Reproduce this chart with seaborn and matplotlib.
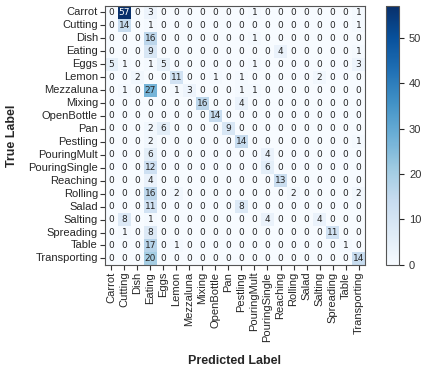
import numpy as np
import pandas as pd
import seaborn as sns
from matplotlib import pyplot as plt

labels = ["Carrot", "Cutting", "Dish", "Eating", "Eggs", "Lemon", "Mezzaluna",
          "Mixing", "OpenBottle", "Pan", "Pestling", "PouringMult",
          "PouringSingle", "Reaching", "Rolling", "Salad", "Salting",
          "Spreading", "Table", "Transporting"]

# rows = true label, columns = predicted label
counts = [
    [0, 57, 0, 3, 0, 0, 0, 0, 0, 0, 0, 1, 0, 0, 0, 0, 0, 0, 0, 1],
    [0, 14, 0, 1, 0, 0, 0, 0, 0, 0, 0, 0, 0, 0, 0, 0, 0, 0, 0, 1],
    [0, 0, 0, 16, 0, 0, 0, 0, 0, 0, 0, 1, 0, 0, 0, 0, 0, 0, 0, 0],
    [0, 0, 0, 9, 0, 0, 0, 0, 0, 0, 0, 0, 0, 4, 0, 0, 0, 0, 0, 1],
    [5, 1, 0, 1, 5, 0, 0, 0, 0, 0, 0, 1, 0, 0, 0, 0, 0, 0, 0, 3],
    [0, 0, 2, 0, 0, 11, 0, 0, 1, 0, 1, 0, 0, 0, 0, 0, 2, 0, 0, 0],
    [0, 1, 0, 27, 0, 1, 3, 0, 0, 0, 1, 1, 0, 0, 0, 0, 0, 0, 0, 0],
    [0, 0, 0, 0, 0, 0, 0, 16, 0, 0, 4, 0, 0, 0, 0, 0, 0, 0, 0, 0],
    [0, 0, 0, 0, 0, 0, 0, 0, 14, 0, 0, 0, 0, 0, 0, 0, 0, 0, 0, 0],
    [0, 0, 0, 2, 6, 0, 0, 0, 0, 9, 0, 0, 0, 0, 0, 0, 0, 0, 0, 0],
    [0, 0, 0, 2, 0, 0, 0, 0, 0, 0, 14, 0, 0, 0, 0, 0, 0, 0, 0, 1],
    [0, 0, 0, 6, 0, 0, 0, 0, 0, 0, 0, 0, 4, 0, 0, 0, 0, 0, 0, 0],
    [0, 0, 0, 12, 0, 0, 0, 0, 0, 0, 0, 0, 6, 0, 0, 0, 0, 0, 0, 0],
    [0, 0, 0, 4, 0, 0, 0, 0, 0, 0, 0, 0, 0, 13, 0, 0, 0, 0, 0, 0],
    [0, 0, 0, 16, 0, 2, 0, 0, 0, 0, 0, 0, 0, 0, 2, 0, 0, 0, 0, 2],
    [0, 0, 0, 11, 0, 0, 0, 0, 0, 0, 8, 0, 0, 0, 0, 0, 0, 0, 0, 0],
    [0, 8, 0, 1, 0, 0, 0, 0, 0, 0, 0, 0, 4, 0, 0, 0, 4, 0, 0, 0],
    [0, 1, 0, 8, 0, 0, 0, 0, 0, 0, 0, 0, 0, 0, 0, 0, 0, 11, 0, 0],
    [0, 0, 0, 17, 0, 1, 0, 0, 0, 0, 0, 0, 0, 0, 0, 0, 0, 0, 1, 0],
    [0, 0, 0, 20, 0, 0, 0, 0, 0, 0, 0, 0, 0, 0, 0, 0, 0, 0, 0, 14],
]

cm = pd.DataFrame(np.array(counts), index=labels, columns=labels)

sns.set_style("ticks")
plt.rcParams['font.family'] = ['Liberation Sans', 'DejaVu Sans']

fig = plt.figure(figsize=(4.23, 3.72), dpi=100)
ax = fig.add_axes([0.248, 0.288, 0.615, 0.696])
cax = fig.add_axes([0.913, 0.288, 0.031, 0.696])

sns.heatmap(cm, annot=True, fmt="d", cmap="Blues", ax=ax, cbar_ax=cax,
            annot_kws={"size": 6.5, "family": "DejaVu Sans"},
            vmin=0, vmax=57)

for sp in ax.spines.values():
    sp.set_visible(True)
    sp.set_color("#555555")
    sp.set_linewidth(0.8)
cbar = ax.collections[0].colorbar
cbar.outline.set_edgecolor("#555555")
cbar.outline.set_linewidth(0.8)

ax.set_xticks(np.arange(len(labels)) + 0.5)
ax.set_yticks(np.arange(len(labels)) + 0.5)
ax.set_xticklabels(labels, rotation=90, fontsize=8)
ax.set_yticklabels(labels, rotation=0, fontsize=8)
ax.tick_params(length=3.5, width=0.8, pad=1.5, color="#333333")
cax.tick_params(labelsize=8, length=3.5, width=0.8, labelcolor="#333333")
cax.set_yticks([0, 10, 20, 30, 40, 50])

ax.set_xlabel("Predicted Label", fontsize=9, fontweight="bold", labelpad=10)
ax.set_ylabel("True Label", fontsize=9, fontweight="bold", labelpad=7)

fig.savefig("out.png", dpi=100)
